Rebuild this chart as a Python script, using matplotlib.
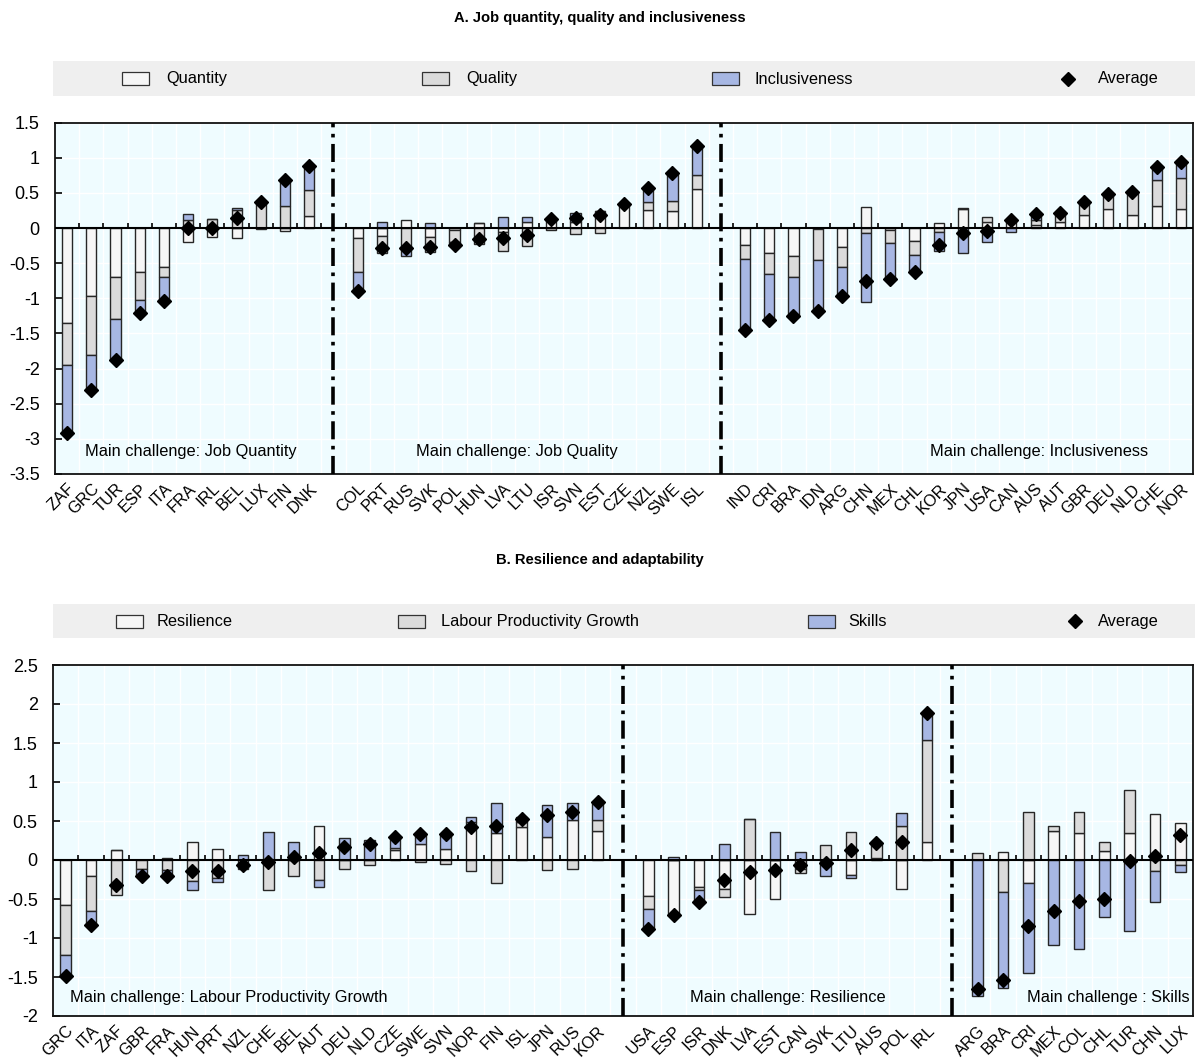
import numpy as np
import matplotlib
matplotlib.use('Agg')
import matplotlib.pyplot as plt
from matplotlib.patches import Rectangle
from matplotlib.ticker import FuncFormatter
from matplotlib import font_manager

_names = {f.name for f in font_manager.fontManager.ttflist}
if 'Liberation Sans Narrow' in _names:
    plt.rcParams['font.family'] = ['Liberation Sans Narrow', 'Liberation Sans', 'DejaVu Sans']
    FS = 14.2
    TFS = 12.8
    YFS = 15.5
else:
    plt.rcParams['font.family'] = ['Liberation Sans', 'DejaVu Sans']
    FS = 11.8
    TFS = 10.6
    YFS = 13
plt.rcParams['axes.unicode_minus'] = False

# ---------------- Panel A data ----------------
a_sec1 = ["ZAF", "GRC", "TUR", "ESP", "ITA", "FRA", "IRL", "BEL", "LUX", "FIN", "DNK"]
a_sec2 = ["COL", "PRT", "RUS", "SVK", "POL", "HUN", "LVA", "LTU", "ISR", "SVN", "EST", "CZE", "NZL", "SWE", "ISL"]
a_sec3 = ["IND", "CRI", "BRA", "IDN", "ARG", "CHN", "MEX", "CHL", "KOR", "JPN", "USA", "CAN", "AUS", "AUT", "GBR",
          "DEU", "NLD", "CHE", "NOR"]

a_quantity = [-1.35, -0.96, -0.69, -0.62, -0.56, -0.20, -0.13, -0.14, -0.01, -0.04, 0.17,
              -0.14, -0.11, 0.12, -0.13, -0.03, 0.07, -0.06, 0.085, 0.10, 0.08, 0.24, 0.32, 0.26, 0.25, 0.555,
              -0.24, -0.355, -0.40, -0.01, -0.27, 0.30, -0.03, -0.185, 0.07, 0.27, 0.085, 0.08, 0.04, 0.085, 0.19,
              0.27, 0.185, 0.32, 0.265]
a_quality = [-0.60, -0.85, -0.60, -0.41, -0.14, 0.11, 0.13, 0.26, 0.35, 0.31, 0.37,
             -0.49, -0.25, -0.27, -0.21, -0.17, -0.22, -0.26, -0.26, -0.03, -0.08, -0.07, 0.02, 0.11, 0.14, 0.205,
             -0.205, -0.305, -0.30, -0.44, -0.285, -0.07, -0.18, -0.20, -0.05, 0.01, 0.075, 0.05, 0.07, 0.115, 0.18,
             0.22, 0.325, 0.36, 0.45]
a_inclusiveness = [-0.95, -0.50, -0.59, -0.18, -0.33, 0.09, 0.0, 0.03, 0.0, 0.39, 0.34,
                   -0.26, 0.085, -0.13, 0.07, -0.05, 0.0, 0.16, 0.075, 0.05, 0.13, 0.0, 0.0, 0.20, 0.38, 0.39,
                   -1.01, -0.65, -0.55, -0.73, -0.405, -0.98, -0.51, -0.24, -0.27, -0.355, -0.20, -0.06, 0.09, 0.0,
                   0.0, 0.0, 0.0, 0.20, 0.215]
a_average = [-2.91, -2.31, -1.88, -1.21, -1.04, 0.0, 0.0, 0.15, 0.37, 0.69, 0.88,
             -0.90, -0.28, -0.28, -0.27, -0.24, -0.15, -0.14, -0.10, 0.13, 0.14, 0.18, 0.34, 0.57, 0.78, 1.17,
             -1.455, -1.31, -1.25, -1.18, -0.96, -0.75, -0.72, -0.625, -0.24, -0.07, -0.04, 0.12, 0.20, 0.22, 0.37,
             0.49, 0.51, 0.87, 0.94]

# ---------------- Panel B data ----------------
b_sec1 = ["GRC", "ITA", "ZAF", "GBR", "FRA", "HUN", "PRT", "NZL", "CHE", "BEL", "AUT", "DEU", "NLD", "CZE", "SWE",
          "SVN", "NOR", "FIN", "ISL", "JPN", "RUS", "KOR"]
b_sec2 = ["USA", "ESP", "ISR", "DNK", "LVA", "EST", "CAN", "SVK", "LTU", "AUS", "POL", "IRL"]
b_sec3 = ["ARG", "BRA", "CRI", "MEX", "COL", "CHL", "TUR", "CHN", "LUX"]

b_resilience = [-0.577, -0.21, 0.13, 0.0, 0.03, 0.235, 0.14, -0.04, 0.0, 0.0, 0.43, 0.0, 0.0, 0.13, 0.2,
                0.14, 0.49, 0.34, 0.42, 0.29, 0.51, 0.375,
                -0.46, -0.70, -0.34, -0.375, -0.69, -0.50, -0.12, 0.0, -0.19, 0.03, -0.37, 0.225,
                0.0, 0.10, -0.29, 0.37, 0.35, 0.115, 0.34, 0.59, 0.47]
b_productivity = [-0.643, -0.44, -0.45, -0.11, -0.13, -0.265, -0.235, -0.08, -0.385, -0.2, -0.25, -0.11, -0.06,
                  0.03, -0.03, -0.05, -0.14, -0.30, 0.07, -0.13, -0.115, 0.135,
                  -0.17, 0.0, -0.05, -0.095, 0.52, 0.0, -0.05, 0.19, 0.36, 0.19, 0.43, 1.315,
                  0.085, -0.405, 0.62, 0.07, 0.26, 0.12, 0.56, -0.14, -0.065]
b_skills = [-0.27, -0.18, 0.0, -0.08, -0.09, -0.12, -0.045, 0.06, 0.365, 0.235, -0.09, 0.28, 0.26, 0.12, 0.13,
            0.18, 0.065, 0.395, 0.065, 0.42, 0.22, 0.22,
            -0.245, 0.04, -0.13, 0.21, 0.01, 0.365, 0.10, -0.21, -0.04, 0.0, 0.17, 0.35,
            -1.745, -1.24, -1.16, -1.09, -1.14, -0.735, -0.905, -0.395, -0.095]
b_average = [-1.49, -0.83, -0.32, -0.21, -0.20, -0.14, -0.14, -0.07, -0.02, 0.04, 0.09, 0.17, 0.20, 0.29, 0.33,
             0.33, 0.42, 0.44, 0.52, 0.58, 0.62, 0.74,
             -0.89, -0.70, -0.54, -0.255, -0.16, -0.13, -0.07, -0.04, 0.13, 0.22, 0.235, 1.88,
             -1.66, -1.54, -0.84, -0.65, -0.53, -0.50, -0.01, 0.05, 0.32]

C_WHITE = '#f6f6f6'
C_GREY = '#dbdbdb'
C_BLUE = '#a7b7e3'
BG = '#effcff'

W, H = 1195, 1060
fig = plt.figure(figsize=(W / 100, H / 100), dpi=100)


def draw_panel(ax, sections, series, avg, ylim, notes):
    pos = []
    labels = []
    dividers = []
    start = 0
    for i, sec in enumerate(sections):
        pos.extend(range(start, start + len(sec)))
        labels.extend(sec)
        start += len(sec)
        if i < len(sections) - 1:
            dividers.append(start)
            start += 1
    nslots = start
    pos = np.array(pos)
    posb = np.zeros(len(pos))
    negb = np.zeros(len(pos))
    for vals, col in zip(series, [C_WHITE, C_GREY, C_BLUE]):
        v = np.array(vals, dtype=float)
        bottom = np.where(v >= 0, posb, negb)
        ax.bar(pos, v, 0.42, bottom=bottom, color=col, edgecolor='#262626', linewidth=1.0, zorder=3)
        posb = posb + np.where(v > 0, v, 0)
        negb = negb + np.where(v < 0, v, 0)
    ax.plot(pos, avg, linestyle='none', marker='D', color='black', ms=7.2, zorder=6)

    ax.set_facecolor(BG)
    ax.set_xlim(-0.5, nslots - 0.5)
    ax.set_ylim(*ylim)
    yt = np.arange(ylim[0], ylim[1] + 0.01, 0.5)
    ax.set_yticks(yt)
    ax.yaxis.set_major_formatter(FuncFormatter(lambda v, p: '%g' % v))
    bnds = np.arange(0.5, nslots - 0.5, 1.0)
    ax.set_xticks(bnds, minor=True)
    ax.set_xticks(pos)
    ax.set_xticklabels(labels, rotation=45, ha='right', va='top', rotation_mode='anchor')
    ax.tick_params(axis='x', which='both', length=0, pad=5, labelsize=FS)
    ax.tick_params(axis='y', direction='in', length=5, width=1.2, labelsize=YFS, pad=11)
    ax.grid(which='minor', axis='x', color='white', lw=1.0, zorder=0)
    ax.grid(which='major', axis='y', color='white', lw=1.0, zorder=0)
    ax.set_axisbelow(True)
    for s in ax.spines.values():
        s.set_linewidth(1.3)
        s.set_color('#111111')
    ax.axhline(0, color='black', lw=1.5, zorder=4)
    tick_h = 0.07
    ax.vlines(bnds, 0, tick_h, color='black', lw=1.2, zorder=4)
    for d in dividers:
        ax.axvline(d, color='black', lw=2.6, linestyle=(0, (5, 1.8, 1, 1.8)), zorder=5)
    for (fx, fy, s) in notes:
        ax.text(fx, fy, s, transform=ax.transAxes, ha='center', va='center', fontsize=FS, zorder=7)


def draw_legend(x0, x1, y0, y1, entries):
    lax = fig.add_axes([x0 / W, 1 - y1 / H, (x1 - x0) / W, (y1 - y0) / H])
    lax.set_xlim(x0, x1)
    lax.set_ylim(y1, y0)
    lax.set_facecolor('#efefef')
    for s in lax.spines.values():
        s.set_visible(False)
    lax.set_xticks([])
    lax.set_yticks([])
    yc = (y0 + y1) / 2
    for kind, px, tx, label, col in entries:
        if kind == 'patch':
            lax.add_patch(Rectangle((px, yc - 6.5), 27, 13, facecolor=col, edgecolor='#333333', lw=0.9))
        else:
            lax.plot([px], [yc], linestyle='none', marker='D', color='black', ms=7.2)
        lax.text(tx, yc + 0.5, label, ha='left', va='center', fontsize=FS)


# Titles
fig.text(600 / W, 1 - 18 / H, "A. Job quantity, quality and inclusiveness", ha='center', va='center',
         fontsize=TFS, fontweight='bold')
fig.text(600 / W, 1 - 560 / H, "B. Resilience and adaptability", ha='center', va='center',
         fontsize=TFS, fontweight='bold')

draw_legend(53, 1195, 61, 96, [
    ('patch', 122, 166, "Quantity", C_WHITE),
    ('patch', 422, 466, "Quality", C_GREY),
    ('patch', 712, 755, "Inclusiveness", C_BLUE),
    ('diamond', 1068, 1098, "Average", None),
])
draw_legend(53, 1195, 604, 638, [
    ('patch', 116, 157, "Resilience", C_WHITE),
    ('patch', 398, 441, "Labour Productivity Growth", C_GREY),
    ('patch', 808, 848, "Skills", C_BLUE),
    ('diamond', 1075, 1098, "Average", None),
])

axA = fig.add_axes([55 / W, 1 - 474 / H, (1193 - 55) / W, (474 - 122.7) / H])
draw_panel(axA, [a_sec1, a_sec2, a_sec3], [a_quantity, a_quality, a_inclusiveness], a_average, (-3.5, 1.5),
           [(0.1195, 0.063, "Main challenge: Job Quantity"),
            (0.406, 0.063, "Main challenge: Job Quality"),
            (0.865, 0.063, "Main challenge: Inclusiveness")])

axB = fig.add_axes([53 / W, 1 - 1016 / H, (1193 - 53) / W, (1016 - 665) / H])
draw_panel(axB, [b_sec1, b_sec2, b_sec3], [b_resilience, b_productivity, b_skills], b_average, (-2.0, 2.5),
           [(0.154, 0.054, "Main challenge: Labour Productivity Growth"),
            (0.645, 0.054, "Main challenge: Resilience"),
            (0.926, 0.054, "Main challenge : Skills")])

fig.savefig('out.png', dpi=100)
